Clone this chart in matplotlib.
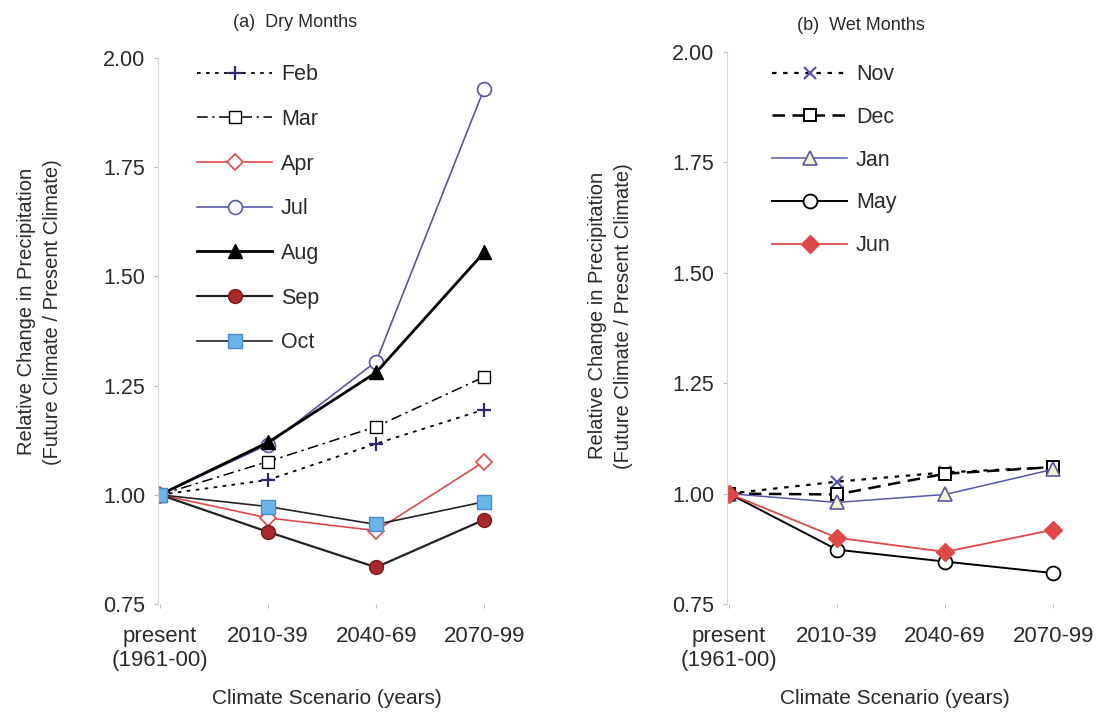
import matplotlib.pyplot as plt
import numpy as np

SCENARIOS = ["present\n(1961-00)", "2010-39", "2040-69", "2070-99"]

# (a) Dry months
DRY_LABELS = ["Feb", "Mar", "Apr", "Jul", "Aug", "Sep", "Oct"]
FEB = [1.00, 1.034, 1.117, 1.195]
MAR = [1.00, 1.076, 1.156, 1.270]
APR = [1.00, 0.947, 0.918, 1.076]
JUL = [1.00, 1.115, 1.305, 1.930]
AUG = [1.00, 1.120, 1.280, 1.555]
SEP = [1.00, 0.915, 0.834, 0.943]
OCT = [1.00, 0.973, 0.932, 0.984]

# (b) Wet months
WET_LABELS = ["Nov", "Dec", "Jan", "May", "Jun"]
NOV = [1.00, 1.027, 1.048, 1.060]
DEC = [1.00, 0.998, 1.045, 1.060]
JAN = [1.00, 0.980, 0.998, 1.055]
MAY = [1.00, 0.873, 0.846, 0.820]
JUN = [1.00, 0.900, 0.868, 0.918]

plt.rcParams["font.family"] = ["Liberation Sans", "DejaVu Sans"]
plt.rcParams["font.size"] = 15
plt.rcParams["text.color"] = "#2a2a2a"
plt.rcParams["xtick.labelcolor"] = "#2a2a2a"
plt.rcParams["ytick.labelcolor"] = "#2a2a2a"
plt.rcParams["axes.labelcolor"] = "#2a2a2a"

BLUE = "#5558a8"
RED = "#e04848"

fig = plt.figure(figsize=(11.02, 7.13), dpi=100)
ax1 = fig.add_axes([0.1432, 0.1529, 0.306, 0.7658])
ax2 = fig.add_axes([0.6595, 0.1529, 0.306, 0.7741])

x = np.arange(len(SCENARIOS))

dry_styles = [
    (FEB, dict(color="black", ls=(0, (2, 3)), lw=1.3, marker="+", ms=10, mec="#2a2a70", mew=1.6)),
    (MAR, dict(color="black", ls=(0, (7, 3, 1.5, 3)), lw=1.1, marker="s", ms=9, mfc="white", mec="black", mew=1.0)),
    (APR, dict(color=RED, ls="-", lw=1.2, marker="D", ms=8, mfc="white", mec=RED, mew=1.2)),
    (JUL, dict(color=BLUE, ls="-", lw=1.2, marker="o", ms=10, mfc="white", mec=BLUE, mew=1.2)),
    (AUG, dict(color="black", ls="-", lw=2.0, marker="^", ms=10, mfc="black", mec="black")),
    (SEP, dict(color="#222222", ls="-", lw=1.6, marker="o", ms=10, mfc="#a82a2a", mec="#7a1a1a")),
    (OCT, dict(color="#222222", ls="-", lw=1.2, marker="s", ms=10, mfc="#6ab4ea", mec="#4a8cc8", mew=1.0)),
]
for (vals, style), lab in zip(dry_styles, DRY_LABELS):
    ax1.plot(x, vals, label=lab, **style)

wet_styles = [
    (NOV, dict(color="black", ls=(0, (2, 3)), lw=1.6, marker="x", ms=9, mec=BLUE, mew=1.6)),
    (DEC, dict(color="black", ls=(0, (5, 3)), lw=1.8, marker="s", ms=9, mfc="white", mec="black", mew=1.4)),
    (JAN, dict(color=BLUE, ls="-", lw=1.1, marker="^", ms=10, mfc="#eef3d0", mec=BLUE, mew=1.2)),
    (MAY, dict(color="black", ls="-", lw=1.4, marker="o", ms=10, mfc="white", mec="black", mew=1.3)),
    (JUN, dict(color=RED, ls="-", lw=1.3, marker="D", ms=9, mfc=RED, mec=RED)),
]
for (vals, style), lab in zip(wet_styles, WET_LABELS):
    ax2.plot(x, vals, label=lab, **style)

ylabel = "Relative Change in Precipitation\n(Future Climate / Present Climate)"
for ax in (ax1, ax2):
    ax.set_xlim(-0.02, 3.1)
    ax.set_ylim(0.75, 2.0)
    ax.set_xticks(x)
    ax.set_xticklabels(SCENARIOS, fontsize=16)
    ax.set_yticks([0.75, 1.00, 1.25, 1.50, 1.75, 2.00])
    ax.set_yticklabels(["0.75", "1.00", "1.25", "1.50", "1.75", "2.00"], fontsize=15.5)
    for s in ("top", "right", "bottom"):
        ax.spines[s].set_visible(False)
    ax.spines["left"].set_color("#d8d8d8")
    ax.tick_params(axis="x", length=3, color="#bbbbbb", pad=13)
    ax.tick_params(axis="y", length=3, color="#bbbbbb", pad=6)
    ax.set_xlabel("Climate Scenario (years)", fontsize=15, labelpad=13)
    ax.set_ylabel(ylabel, fontsize=14.5, linespacing=1.5)

ax1.yaxis.set_label_coords(-0.284, 0.535)
ax2.yaxis.set_label_coords(-0.278, 0.522)

ax1.set_title("(a)  Dry Months", fontsize=13, pad=22, x=0.407)
ax2.set_title("(b)  Wet Months", fontsize=13, pad=16, x=0.398)

fig.legend(*ax1.get_legend_handles_labels(), loc="upper left",
           bbox_to_anchor=(0.1788, 0.910), frameon=False, fontsize=15.5,
           borderpad=0, borderaxespad=0, handlelength=3.5, labelspacing=1.10,
           handletextpad=0.4)
fig.legend(*ax2.get_legend_handles_labels(), loc="upper left",
           bbox_to_anchor=(0.7005, 0.910), frameon=False, fontsize=15.5,
           borderpad=0, borderaxespad=0, handlelength=3.5, labelspacing=1.01,
           handletextpad=0.4)

fig.savefig("out.png", dpi=100)
